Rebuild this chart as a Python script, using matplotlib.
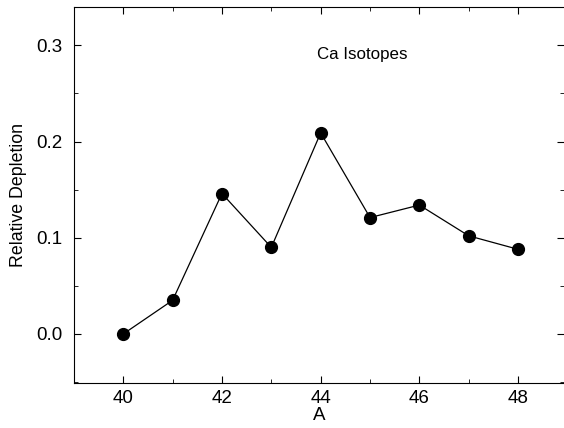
import matplotlib
matplotlib.use('Agg')
import matplotlib.pyplot as plt
from matplotlib.ticker import MultipleLocator

# Ca isotope data
mass = [40, 41, 42, 43, 44, 45, 46, 47, 48]
depletion = [0.0, 0.035, 0.146, 0.090, 0.209, 0.121, 0.134, 0.102, 0.088]

plt.rcParams['font.family'] = ['Liberation Sans', 'DejaVu Sans']

fig = plt.figure(figsize=(5.64, 4.28), dpi=100)
ax = fig.add_axes([0.131, 0.105, 0.869, 0.879])

ax.plot(mass, depletion, color='black', lw=0.9, marker='o', ms=8.5,
        markerfacecolor='black')

ax.set_xlim(39, 48.93)
ax.set_ylim(-0.051, 0.34)
ax.xaxis.set_major_locator(MultipleLocator(2))
ax.xaxis.set_minor_locator(MultipleLocator(1))
ax.yaxis.set_major_locator(MultipleLocator(0.1))
ax.yaxis.set_minor_locator(MultipleLocator(0.05))
ax.yaxis.set_major_formatter(matplotlib.ticker.FormatStrFormatter('%.1f'))
ax.tick_params(which='both', direction='in', top=True, right=True, labelsize=13.5)
ax.tick_params(which='major', length=5)
ax.tick_params(which='minor', length=3)
ax.tick_params(axis='y', pad=8)
ax.tick_params(axis='x', pad=5)
ax.spines['right'].set_visible(False)

ax.set_xlabel('A', fontsize=13.5, labelpad=0)
ax.set_ylabel('Relative Depletion', fontsize=12.8, labelpad=7)
ax.text(44.85, 0.29, 'Ca Isotopes', fontsize=12.2, ha='center', va='center')

fig.savefig('out.png', dpi=100)
